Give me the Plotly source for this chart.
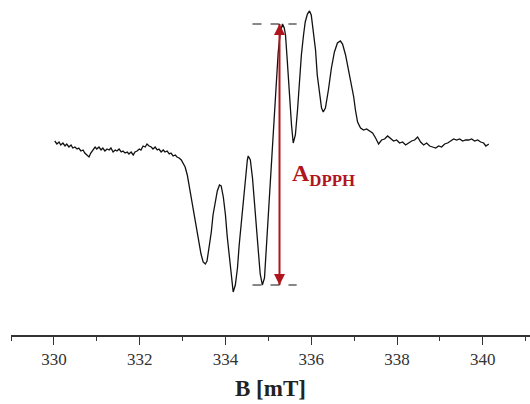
import plotly.graph_objects as go

# Magnetic field (mT)
field_mT = [
    330.02, 330.07, 330.12, 330.16, 330.21, 330.26, 330.30, 330.35, 330.40, 330.44,
    330.49, 330.54, 330.58, 330.63, 330.68, 330.72, 330.77, 330.82, 330.86, 330.91,
    330.96, 331.00, 331.05, 331.10, 331.14, 331.19, 331.24, 331.29, 331.33, 331.38,
    331.43, 331.47, 331.52, 331.57, 331.61, 331.66, 331.71, 331.75, 331.80, 331.85,
    331.89, 331.94, 331.99, 332.03, 332.08, 332.13, 332.17, 332.22, 332.27, 332.31,
    332.36, 332.41, 332.45, 332.50, 332.55, 332.59, 332.64, 332.69, 332.73, 332.78,
    332.83, 332.87, 332.92, 332.97, 333.01,
    333.06, 333.11, 333.15, 333.20, 333.25, 333.29, 333.34, 333.39, 333.43, 333.48,
    333.53, 333.57, 333.62, 333.67, 333.71, 333.76, 333.81, 333.86, 333.90, 333.95,
    334.00, 334.04, 334.09, 334.14, 334.18, 334.23, 334.28, 334.32, 334.37, 334.42,
    334.46, 334.51, 334.53, 334.58, 334.63, 334.67, 334.72, 334.77, 334.81, 334.86,
    334.91, 334.95, 335.00, 335.05, 335.09, 335.14, 335.19, 335.23, 335.28, 335.33,
    335.37, 335.40, 335.44, 335.49, 335.54, 335.58, 335.63, 335.68, 335.72, 335.77,
    335.82, 335.86, 335.91, 335.96, 336.00, 336.05, 336.10, 336.14, 336.19, 336.24,
    336.28, 336.33, 336.40, 336.47, 336.54, 336.61, 336.68, 336.73, 336.80, 336.87,
    336.94, 336.99, 337.03, 337.08, 337.15,
    337.22, 337.29, 337.36, 337.43, 337.50, 337.57, 337.64, 337.71, 337.78, 337.85,
    337.92, 337.99, 338.06, 338.13, 338.20, 338.27, 338.34, 338.41, 338.48, 338.55,
    338.62, 338.69, 338.76, 338.83, 338.90, 338.97, 339.04, 339.11, 339.18, 339.25,
    339.32, 339.39, 339.46, 339.53, 339.60, 339.67, 339.74, 339.81, 339.88, 339.95,
    340.02, 340.07, 340.14,
]

# EPR signal intensity (a.u.)
epr_signal = [
    4, 1, 3, 0, 2, -1, 1, -2, 0, -3,
    -2, -4, -3, -6, -5, -8, -10, -12, -8, -5,
    -2, -4, -2, -5, -3, -6, -4, -5, -3, -7,
    -5, -6, -4, -7, -6, -8, -7, -9, -7, -10,
    -7, -6, -4, -5, -1, -2, 1, -1, -2, -4,
    -2, -5, -4, -7, -5, -7, -6, -9, -8, -11,
    -10, -12, -13, -15, -18,
    -22, -30, -40, -51, -63, -74, -86, -97, -109, -117,
    -119, -116, -103, -87, -70, -57, -46, -40, -41, -52,
    -70, -91, -111, -133, -147, -140, -123, -100, -77, -53,
    -31, -15, -11, -15, -33, -57, -83, -108, -129, -140,
    -133, -105, -70, -35, 0, 35, 65, 93, 113, 121,
    117, 110, 85, 50, 20, 2, 10, 35, 65, 90,
    110, 123, 131, 134, 130, 115, 95, 70, 50, 37,
    33, 37, 55, 77, 93, 102, 104, 101, 90, 75,
    57, 48, 35, 23, 17,
    15, 16, 14, 12, 7, 1, 5, 6, 9, 6,
    4, 5, 2, 3, 0, 2, 4, 5, 8, 3,
    0, 2, -1, -2, -3, -1, -2, 1, 2, 4,
    6, 5, 6, 4, 5, 5, 6, 4, 5, 3,
    2, -1, 1,
]

tick_values = [330, 332, 334, 336, 338, 340]
tick_labels = ["330", "332", "334", "336", "338", "340"]

RED = "#b0151d"
SERIF = "Times New Roman, Liberation Serif, serif"

# amplitude markers derived from the data
peak_window = [(b, v) for b, v in zip(field_mT, epr_signal) if 335.2 <= b <= 335.45]
trough_window = [(b, v) for b, v in zip(field_mT, epr_signal) if 334.75 <= b <= 335.0]
a_top = max(v for _, v in peak_window)
a_bottom = min(v for _, v in trough_window)
ARROW_B = 335.26

fig = go.Figure()
fig.add_trace(go.Scatter(
    x=field_mT, y=epr_signal, mode="lines",
    line=dict(color="#111111", width=1.3),
    showlegend=False, hoverinfo="skip",
))

for lvl in (a_top, a_bottom):
    fig.add_shape(type="line", xref="x", yref="y",
                  x0=ARROW_B - 0.63, x1=ARROW_B + 0.4, y0=lvl, y1=lvl,
                  line=dict(color="#111111", width=1, dash="dash"))

# double-headed amplitude arrow
fig.add_trace(go.Scatter(
    x=[ARROW_B, ARROW_B], y=[a_top, a_bottom], mode="lines+markers",
    line=dict(color=RED, width=2),
    marker=dict(symbol=["arrow-up", "arrow-down"], size=11, color=RED,
                line=dict(width=0)),
    showlegend=False, hoverinfo="skip",
))

fig.add_annotation(
    x=335.51, y=-30, xref="x", yref="y",
    text="<b>A<sub>DPPH</sub></b>", showarrow=False,
    xanchor="left", yanchor="middle",
    font=dict(family=SERIF, size=24, color=RED),
)

fig.update_layout(
    width=530, height=404,
    margin=dict(l=11, r=0, t=0, b=69),
    paper_bgcolor="white", plot_bgcolor="white",
    xaxis=dict(
        range=[329, 341.1],
        tickmode="array", tickvals=tick_values, ticktext=tick_labels,
        ticks="outside", ticklen=8, tickwidth=1.3, tickcolor="#333333",
        minor=dict(dtick=1, tick0=329, ticks="outside", ticklen=4,
                   tickwidth=1.2, tickcolor="#333333", showgrid=False),
        showline=True, linecolor="#333333", linewidth=1.5,
        showgrid=False, zeroline=False,
        tickfont=dict(family=SERIF, size=17, color="#333333"),
        title=dict(text="<b>B [mT]</b>", standoff=12,
                   font=dict(family=SERIF, size=23, color="#222222")),
    ),
    yaxis=dict(range=[-190, 145], visible=False, showgrid=False, zeroline=False),
)

fig.write_html("out.html")
